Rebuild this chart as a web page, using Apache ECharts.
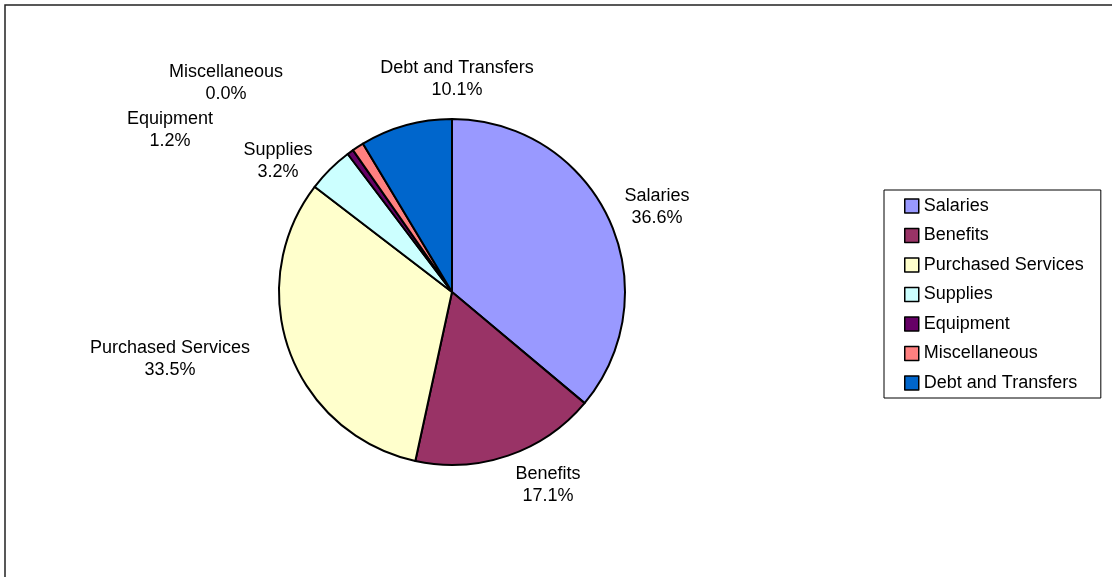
<!DOCTYPE html>
<html>
<head>
<meta charset="utf-8">
<script src="https://cdn.jsdelivr.net/npm/echarts@6/dist/echarts.min.js"></script>
<style>
html,body{margin:0;padding:0;background:#fff;}
#chart{width:1112px;height:577px;}
</style>
</head>
<body>
<div id="chart"></div>
<script>
// Categories and values (slice sizes; printed labels kept as text)
var categories = ['Salaries', 'Benefits', 'Purchased Services', 'Supplies', 'Equipment', 'Miscellaneous', 'Debt and Transfers'];
var sliceValues = [36.1, 17.3, 32.0, 4.3, 0.6, 1.1, 8.6];
var printedPercents = ['36.6%', '17.1%', '33.5%', '3.2%', '1.2%', '0.0%', '10.1%'];
var colors = ['#9999FF', '#993366', '#FFFFCC', '#CCFFFF', '#660066', '#FF8080', '#0066CC'];

// label centre placements (layout only)
var labelPos = [[657, 207], [548, 485], [170, 359], [278, 161], [170, 130], [226, 83], [457, 79]];

var chart = echarts.init(document.getElementById('chart'), null, {renderer: 'canvas'});
var data = categories.map(function (c, i) {
  return { name: c, value: sliceValues[i], itemStyle: { color: colors[i] } };
});

var FONT = 'Liberation Sans, Arial, sans-serif';

chart.setOption({
  animation: false,
  backgroundColor: '#ffffff',
  graphic: [{
    type: 'rect',
    shape: { x: 5, y: 5, width: 1130, height: 600 },
    style: { fill: 'none', stroke: '#222', lineWidth: 1.5 },
    silent: true
  }],
  legend: {
    orient: 'vertical',
    left: 884,
    top: 190,
    padding: [6, 17, 5, 20],
    borderColor: '#000',
    borderWidth: 1,
    itemWidth: 14,
    itemHeight: 14,
    itemGap: 9.5,
    icon: 'rect',
    data: categories,
    itemStyle: { borderColor: '#000', borderWidth: 1.5 },
    textStyle: { fontFamily: FONT, fontSize: 18, lineHeight: 20, color: '#000', padding: [0, 0, 0, 0] }
  },
  series: [{
    type: 'pie',
    center: [452, 292],
    radius: [0, 173],
    startAngle: 90,
    clockwise: true,
    minAngle: 0,
    avoidLabelOverlap: false,
    data: data,
    itemStyle: { borderColor: '#000', borderWidth: 2 },
    emphasis: { disabled: true },
    label: {
      show: true,
      position: 'outside',
      formatter: function (p) { return p.name + '\n' + printedPercents[p.dataIndex]; },
      fontFamily: FONT,
      fontSize: 18,
      lineHeight: 22.5,
      color: '#000',
      align: 'center'
    },
    labelLine: { show: false },
    labelLayout: function (params) {
      var p = labelPos[params.dataIndex];
      return { x: p[0], y: p[1], align: 'center', verticalAlign: 'middle' };
    }
  }]
});
</script>
</body>
</html>
